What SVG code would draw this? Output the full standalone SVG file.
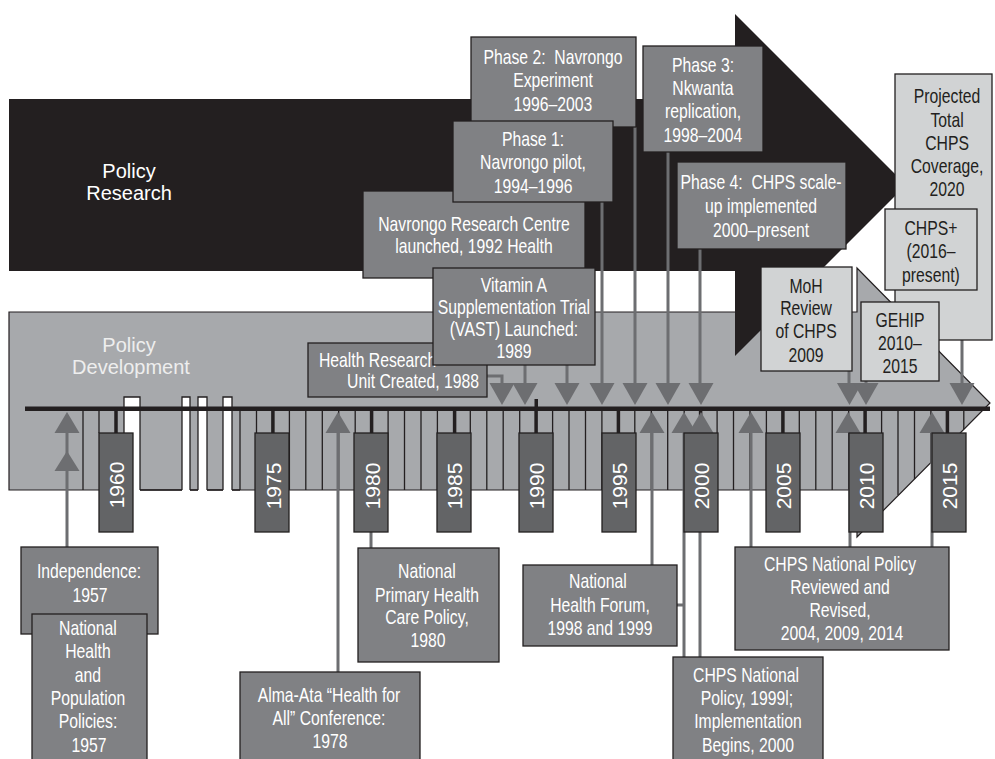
<svg xmlns="http://www.w3.org/2000/svg" width="995" height="759" viewBox="0 0 995 759">
<defs>
<style>
.bx{fill:#808184;stroke:#231f20;stroke-width:1.3}
.lb{fill:#d1d3d4;stroke:#231f20;stroke-width:1.3}
.yb{fill:#636466;stroke:#231f20;stroke-width:1.3}
.w{font-family:"Liberation Sans",Arial,sans-serif;font-size:21px;fill:#ffffff;text-anchor:middle}
.k{font-family:"Liberation Sans",Arial,sans-serif;font-size:21px;fill:#231f20;text-anchor:middle}
.yr{font-family:"Liberation Sans",Arial,sans-serif;font-size:21px;fill:#ffffff;text-anchor:middle}
.big{font-family:"Liberation Sans",Arial,sans-serif;font-size:20px;text-anchor:middle}
.col{stroke:#231f20;stroke-width:1.3;fill:none}
.cn{stroke:#6d6e71;stroke-width:3;fill:none}
.ah{fill:#6d6e71}
</style>
</defs>

<!-- Policy Development (gray arrow) -->
<g id="policy-development">
<polygon points="9,312 857,312 857,268 990,403 857,537 857,490 9,490" fill="#a7a9ac" stroke="#231f20" stroke-width="1.2"/>
<rect x="124" y="397" width="16" height="96" fill="#ffffff"/>
<rect x="182" y="397" width="8" height="96" fill="#ffffff"/>
<rect x="198" y="397" width="9" height="96" fill="#ffffff"/>
<rect x="223" y="397" width="9" height="96" fill="#ffffff"/>
<path class="col" d="M124,490 V397 H140 V490 M182,490 V397 H190 V490 M198,490 V397 H207 V490 M223,490 V397 H232 V490 M140,490 H182 M190,490 H198 M207,490 H223 M232,490 H240"/>
<path class="col" d="M83,409 V490 M99,409 V433 M240,409 V490 M256.5,409 V490 M289.4,409 V490 M305.8,409 V490 M322.3,409 V490 M338.7,409 V490 M355.2,409 V490 M388.1,409 V490 M404.5,409 V490 M421,409 V490 M437.4,409 V490 M470.3,409 V490 M486.8,409 V490 M503.2,409 V490 M519.7,409 V490 M552.6,409 V490 M569,409 V490 M585.5,409 V490 M601.9,409 V490 M634.8,409 V490 M651.3,409 V490 M667.7,409 V490 M684.2,409 V490 M717.1,409 V490 M733.5,409 V490 M750,409 V490 M766.4,409 V490 M799.3,409 V490 M815.8,409 V490 M832.2,409 V490 M848.7,409 V490 M881.6,409 V511 M898,409 V495 M914.5,409 V479 M930.9,409 V462 M963.8,409 V429"/>
<text class="big" fill="#eeeeee"><tspan x="129" y="352">Policy</tspan><tspan x="131" y="374">Development</tspan></text>
</g>

<!-- Policy Research (black arrow) -->
<g id="policy-research">
<polygon points="9,99 735,99 735,14 906,185 735,356 735,271 9,271" fill="#231f20"/>
<text class="big" fill="#ffffff"><tspan x="129" y="178">Policy</tspan><tspan x="129" y="200">Research</tspan></text>
</g>

<!-- timeline -->
<g id="timeline">
<rect x="25" y="406.5" width="965" height="4.5" fill="#231f20"/>
<rect x="534.5" y="399" width="3.5" height="10" fill="#231f20"/>
<path d="M116,409 V433 M272.9,409 V433 M371.6,409 V433 M454.6,409 V433 M536.1,409 V433 M618.4,409 V433 M700.6,409 V433 M782.9,409 V433 M865.1,409 V433 M947.4,409 V433" stroke="#231f20" stroke-width="3.5" fill="none"/>
</g>

<!-- connectors -->
<g id="connectors">
<path class="cn" d="M487,376 H502 V386 M525,365 V386 M567,365 V386 M602,202 V386 M635,127 V386 M668,152 V386 M700,249 V386 M849,371 V386 M866,381 V386 M962,290 V386"/>
<path class="cn" d="M67,433 V547 M338,433 V672 M371,532 V548 M652,433 V565 M677,605 H684 M684,433 V657 M700,433 V657 M751,433 V547 M850,433 V547 M932,433 V547"/>
<g class="ah">
<polygon points="489.5,383 514.5,383 502,405"/>
<polygon points="512.5,383 537.5,383 525,405"/>
<polygon points="554.5,383 579.5,383 567,405"/>
<polygon points="589.5,383 614.5,383 602,405"/>
<polygon points="622.5,383 647.5,383 635,405"/>
<polygon points="655.5,383 680.5,383 668,405"/>
<polygon points="688.5,383 713.5,383 701,405"/>
<polygon points="837,383 862,383 849.5,405"/>
<polygon points="853.5,383 878.5,383 866,405"/>
<polygon points="949.5,383 974.5,383 962,405"/>
<polygon points="54.5,433 79.5,433 67,412"/>
<polygon points="54.5,471 79.5,471 67,451"/>
<polygon points="325.5,433 350.5,433 338,412"/>
<polygon points="639.5,433 664.5,433 652,412"/>
<polygon points="671.5,433 696.5,433 684,412"/>
<polygon points="688.5,433 713.5,433 701,412"/>
<polygon points="738.5,433 763.5,433 751,412"/>
<polygon points="835.5,433 860.5,433 848,412"/>
<polygon points="919.5,433 944.5,433 932,412"/>
</g>
</g>

<!-- year boxes -->
<g id="y1960"><rect class="yb" x="99" y="433" width="34" height="99"/><text class="yr" transform="translate(124,485) rotate(-90)">1960</text></g>
<g id="y1975"><rect class="yb" x="255" y="433" width="34" height="99"/><text class="yr" transform="translate(280.5,486) rotate(-90)">1975</text></g>
<g id="y1980"><rect class="yb" x="354" y="433" width="34" height="99"/><text class="yr" transform="translate(379.5,486) rotate(-90)">1980</text></g>
<g id="y1985"><rect class="yb" x="437" y="433" width="34" height="99"/><text class="yr" transform="translate(462,486) rotate(-90)">1985</text></g>
<g id="y1990"><rect class="yb" x="519" y="433" width="34" height="99"/><text class="yr" transform="translate(544,486) rotate(-90)">1990</text></g>
<g id="y1995"><rect class="yb" x="602" y="433" width="34" height="99"/><text class="yr" transform="translate(627,486) rotate(-90)">1995</text></g>
<g id="y2000"><rect class="yb" x="684" y="433" width="34" height="99"/><text class="yr" transform="translate(709,486) rotate(-90)">2000</text></g>
<g id="y2005"><rect class="yb" x="766" y="433" width="34" height="99"/><text class="yr" transform="translate(791,486) rotate(-90)">2005</text></g>
<g id="y2010"><rect class="yb" x="849" y="433" width="34" height="99"/><text class="yr" transform="translate(874,486) rotate(-90)">2010</text></g>
<g id="y2015"><rect class="yb" x="932" y="433" width="34" height="99"/><text class="yr" transform="translate(957,486) rotate(-90)">2015</text></g>

<!-- top research boxes (text condensed with scale 0.75; x values divided by 0.75) -->
<g id="health-research-unit"><rect class="bx" x="308" y="343" width="179" height="54"/><text class="w" style="text-anchor:start" transform="scale(0.75,1)"><tspan x="425.3" y="367">Health Research</tspan><tspan x="462.7" y="388">Unit Created, 1988</tspan></text></g>
<g id="navrongo-centre"><rect class="bx" x="363" y="191" width="222" height="87"/><text class="w" transform="scale(0.75,1)"><tspan x="632" y="231">Navrongo Research Centre</tspan><tspan x="632" y="253">launched, 1992 Health</tspan></text></g>
<g id="vitamin-a"><rect class="bx" x="433" y="268" width="162" height="97"/><text class="w" transform="scale(0.75,1)"><tspan x="685.3" y="292">Vitamin A</tspan><tspan x="685.3" y="314">Supplementation Trial</tspan><tspan x="685.3" y="336">(VAST) Launched:</tspan><tspan x="685.3" y="358">1989</tspan></text></g>
<g id="phase2"><rect class="bx" x="471" y="37" width="165" height="90"/><text class="w" transform="scale(0.75,1)"><tspan x="737.3" y="64">Phase 2:&#160; Navrongo</tspan><tspan x="737.3" y="87">Experiment</tspan><tspan x="737.3" y="111">1996–2003</tspan></text></g>
<g id="phase1"><rect class="bx" x="453" y="121" width="160" height="81"/><text class="w" transform="scale(0.75,1)"><tspan x="710.7" y="146">Phase 1:</tspan><tspan x="710.7" y="169">Navrongo pilot,</tspan><tspan x="710.7" y="193">1994–1996</tspan></text></g>
<g id="phase3"><rect class="bx" x="643" y="46" width="120" height="106"/><text class="w" transform="scale(0.75,1)"><tspan x="937.3" y="72">Phase 3:</tspan><tspan x="937.3" y="95">Nkwanta</tspan><tspan x="937.3" y="118">replication,</tspan><tspan x="937.3" y="142">1998–2004</tspan></text></g>
<g id="phase4"><rect class="bx" x="677" y="162" width="169" height="87"/><text class="w" transform="scale(0.75,1)"><tspan x="1014.7" y="189">Phase 4:&#160; CHPS scale-</tspan><tspan x="1014.7" y="213">up implemented</tspan><tspan x="1014.7" y="237">2000–present</tspan></text></g>

<!-- light boxes -->
<g id="projected"><rect class="lb" x="895" y="74" width="97" height="266"/><text class="k" transform="scale(0.75,1)"><tspan x="1262.7" y="103">Projected</tspan><tspan x="1262.7" y="127">Total</tspan><tspan x="1262.7" y="150">CHPS</tspan><tspan x="1262.7" y="173">Coverage,</tspan><tspan x="1262.7" y="196">2020</tspan></text></g>
<g id="chps-plus"><rect class="lb" x="885" y="209" width="92" height="81"/><text class="k" transform="scale(0.75,1)"><tspan x="1241.3" y="235">CHPS+</tspan><tspan x="1241.3" y="258">(2016–</tspan><tspan x="1241.3" y="282">present)</tspan></text></g>
<g id="moh-review"><rect class="lb" x="761" y="267" width="91" height="104"/><text class="k" transform="scale(0.75,1)"><tspan x="1074.7" y="293">MoH</tspan><tspan x="1074.7" y="315">Review</tspan><tspan x="1074.7" y="338">of CHPS</tspan><tspan x="1074.7" y="362">2009</tspan></text></g>
<g id="gehip"><rect class="lb" x="861" y="302" width="78" height="79"/><text class="k" transform="scale(0.75,1)"><tspan x="1200" y="327">GEHIP</tspan><tspan x="1200" y="350">2010–</tspan><tspan x="1200" y="373">2015</tspan></text></g>

<!-- bottom policy boxes -->
<g id="independence"><rect class="bx" x="21" y="547" width="137" height="87"/><text class="w" transform="scale(0.75,1)"><tspan x="118.7" y="578">Independence:</tspan><tspan x="120" y="602">1957</tspan></text></g>
<g id="national-health-population"><rect class="bx" x="32" y="614" width="115" height="160"/><text class="w" transform="scale(0.75,1)"><tspan x="117.3" y="635">National</tspan><tspan x="117.3" y="658">Health</tspan><tspan x="117.3" y="682">and</tspan><tspan x="117.3" y="705">Population</tspan><tspan x="117.3" y="728">Policies:</tspan><tspan x="118.7" y="752">1957</tspan></text></g>
<g id="alma-ata"><rect class="bx" x="240" y="672" width="180" height="100"/><text class="w" transform="scale(0.75,1)"><tspan x="438.7" y="702">Alma-Ata “Health for</tspan><tspan x="438.7" y="725">All” Conference:</tspan><tspan x="440" y="748">1978</tspan></text></g>
<g id="primary-health-care"><rect class="bx" x="358" y="548" width="141" height="114"/><text class="w" transform="scale(0.75,1)"><tspan x="569.3" y="578">National</tspan><tspan x="569.3" y="602">Primary Health</tspan><tspan x="569.3" y="624">Care Policy,</tspan><tspan x="570.7" y="647">1980</tspan></text></g>
<g id="health-forum"><rect class="bx" x="523" y="565" width="154" height="81"/><text class="w" transform="scale(0.75,1)"><tspan x="797.3" y="588">National</tspan><tspan x="800" y="612">Health Forum,</tspan><tspan x="800" y="635">1998 and 1999</tspan></text></g>
<g id="chps-policy"><rect class="bx" x="673" y="657" width="150" height="115"/><text class="w" transform="scale(0.75,1)"><tspan x="994.7" y="682">CHPS National</tspan><tspan x="996" y="705">Policy, 1999l;</tspan><tspan x="997.3" y="728">Implementation</tspan><tspan x="997.3" y="752">Begins, 2000</tspan></text></g>
<g id="chps-reviewed"><rect class="bx" x="735" y="547" width="214" height="103"/><text class="w" transform="scale(0.75,1)"><tspan x="1120" y="571">CHPS National Policy</tspan><tspan x="1120" y="594">Reviewed and</tspan><tspan x="1120" y="617">Revised,</tspan><tspan x="1122.7" y="640">2004, 2009, 2014</tspan></text></g>
</svg>
